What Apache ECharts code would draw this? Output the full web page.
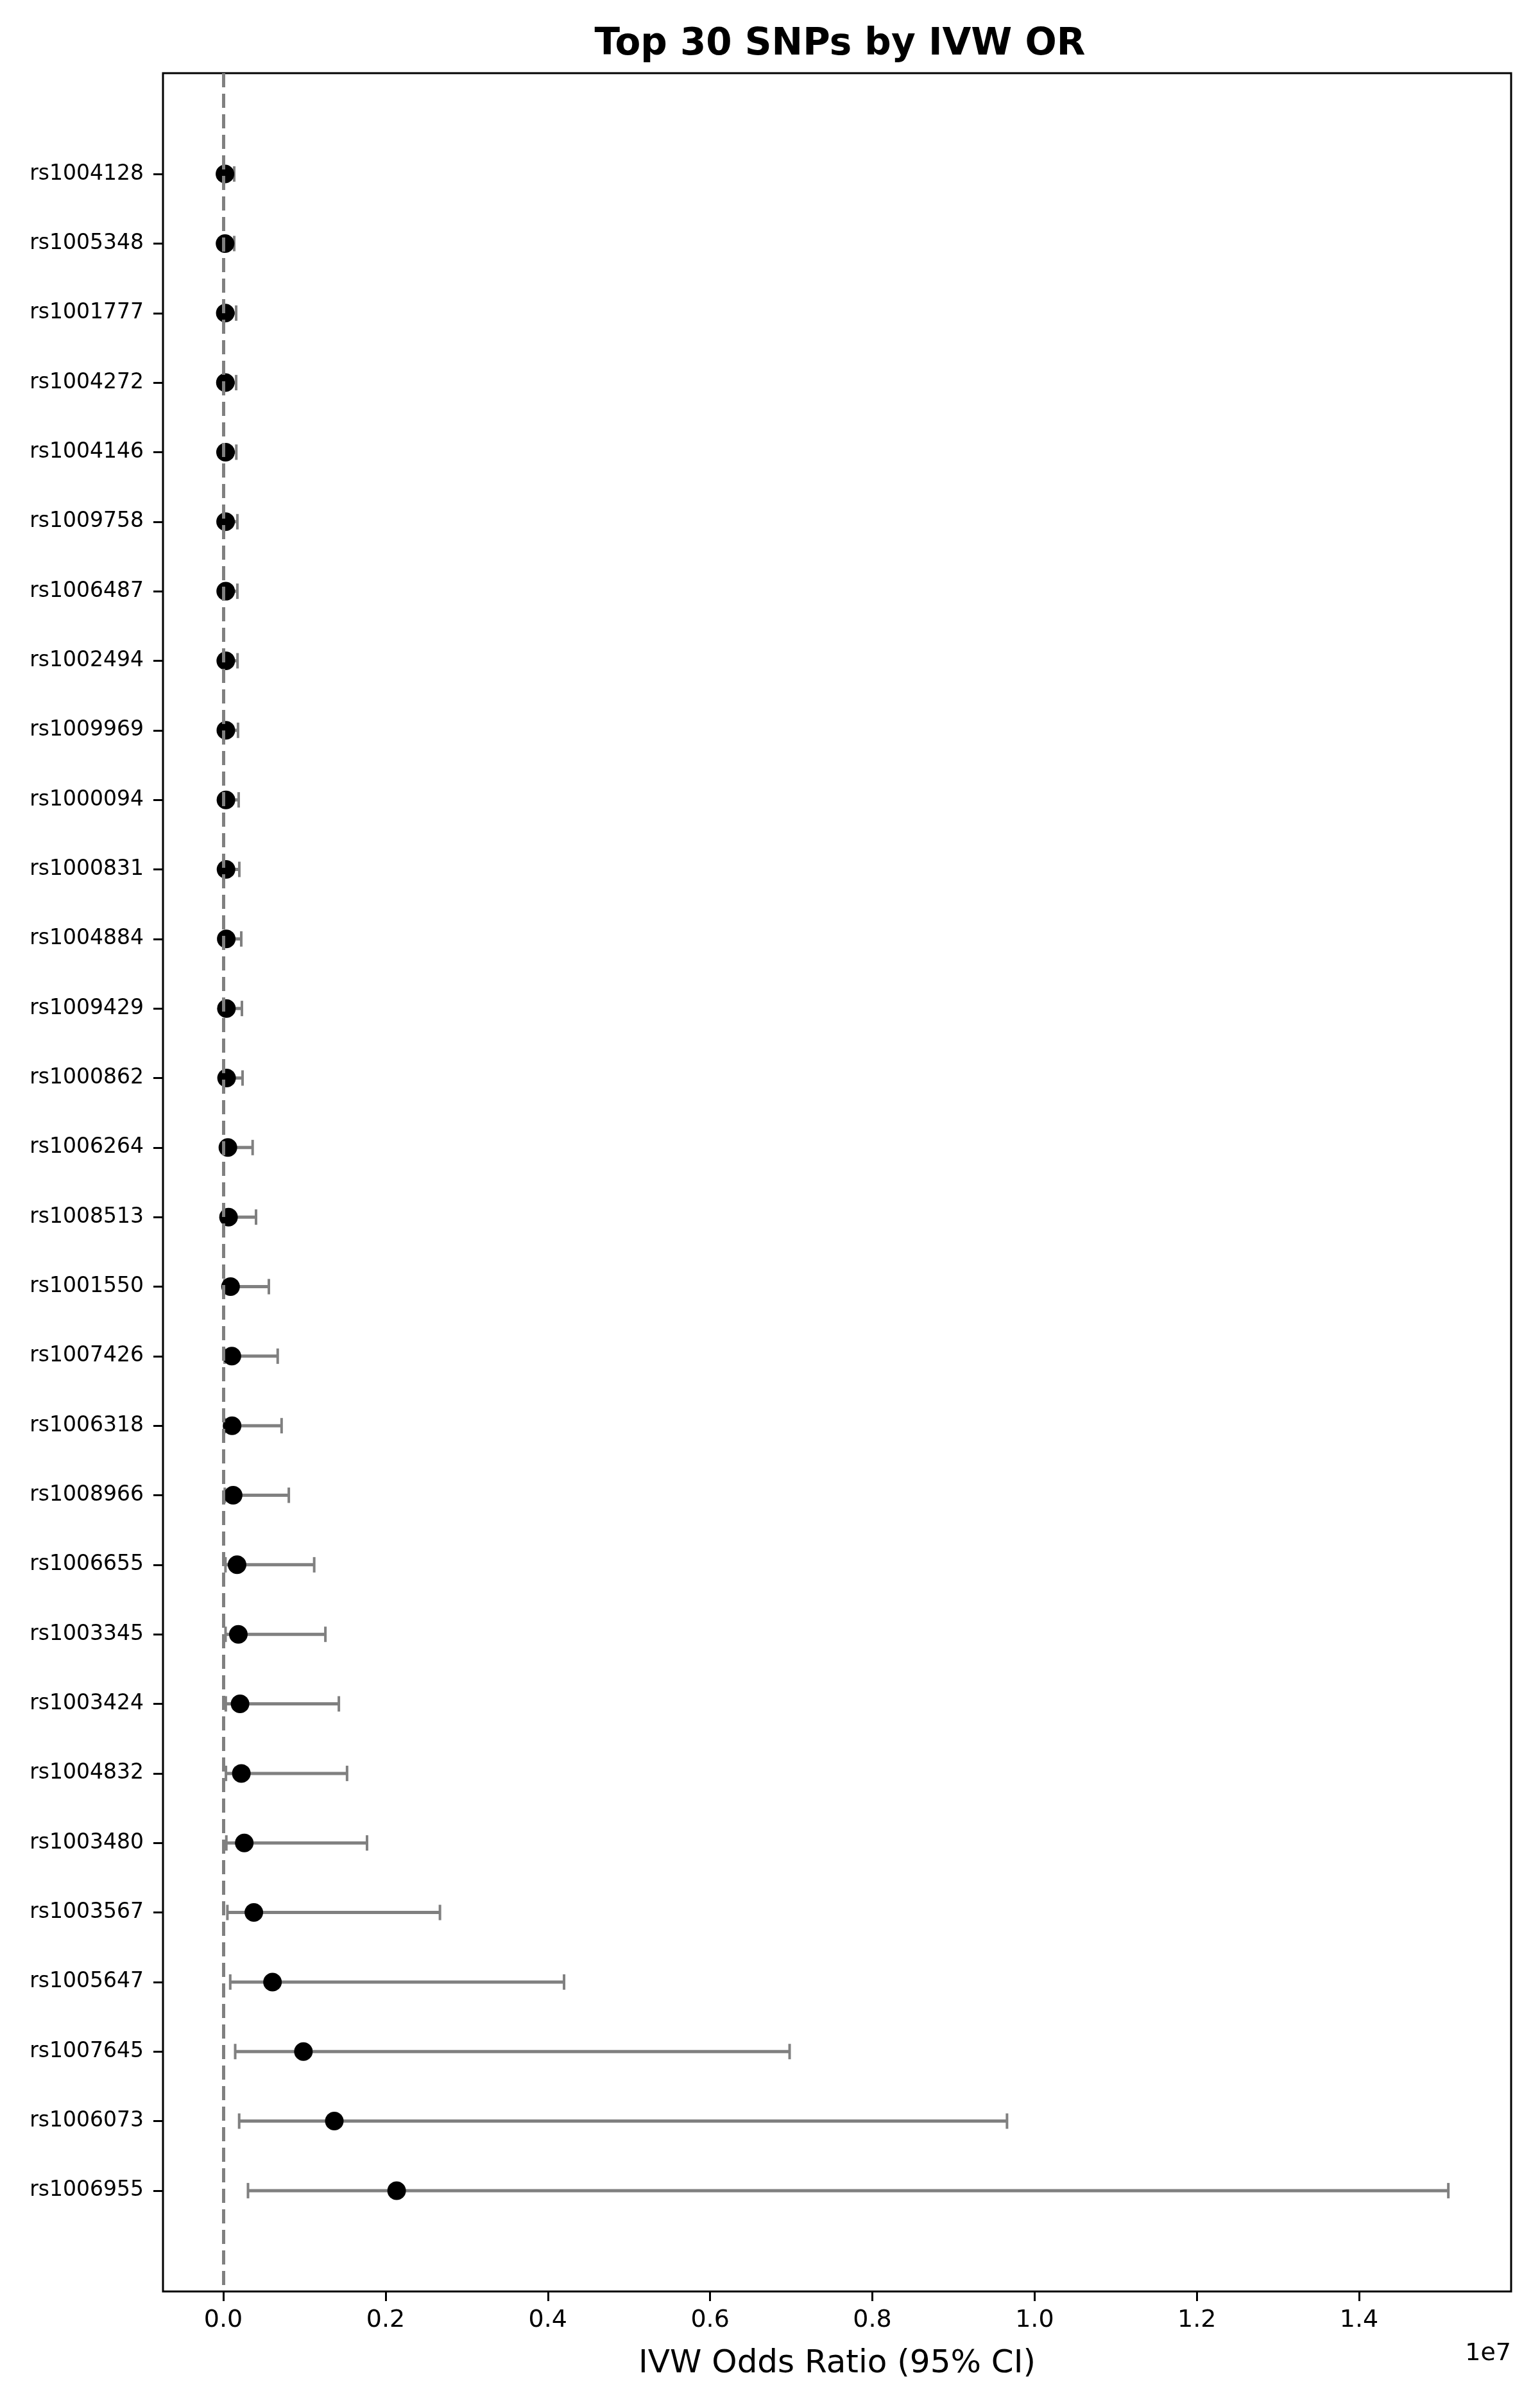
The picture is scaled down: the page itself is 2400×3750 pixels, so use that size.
<!DOCTYPE html>
<html>
<head>
<meta charset="utf-8">
<script src="https://cdn.jsdelivr.net/npm/echarts@6/dist/echarts.min.js"></script>
<style>
html, body { margin: 0; padding: 0; background: #fff; }
#chart { width: 2400px; height: 3750px; }
</style>
</head>
<body>
<div id="chart"></div>
<script>
// SNPs from top to bottom
const snps = [
  'rs1004128','rs1005348','rs1001777','rs1004272','rs1004146','rs1009758','rs1006487','rs1002494',
  'rs1009969','rs1000094','rs1000831','rs1004884','rs1009429','rs1000862','rs1006264','rs1008513',
  'rs1001550','rs1007426','rs1006318','rs1008966','rs1006655','rs1003345','rs1003424','rs1004832',
  'rs1003480','rs1003567','rs1005647','rs1007645','rs1006073','rs1006955'
];
const orValues = [
  20000, 21000, 24000, 25000, 27000, 28000, 29000, 30000,
  31000, 32000, 33000, 36000, 38000, 40000, 56000, 64000,
  89000, 105000, 108000, 121000, 169000, 185000, 206000, 222000,
  258000, 376000, 606000, 987000, 1368000, 2136000
];
const ciLower = [
  3000, 3000, 4000, 4000, 4000, 5000, 5000, 5000,
  5000, 5000, 5000, 6000, 6000, 6000, 9000, 10000,
  14000, 16000, 16000, 18000, 26000, 27000, 30000, 32000,
  37000, 50000, 85000, 146000, 195000, 304000
];
const ciUpper = [
  134000, 134000, 158000, 158000, 160000, 173000, 173000, 175000,
  181000, 189000, 197000, 221000, 229000, 237000, 361000, 403000,
  561000, 670000, 718000, 807000, 1120000, 1258000, 1424000, 1525000,
  1771000, 2670000, 4200000, 6980000, 9660000, 15100000
];
const xTicks = [0, 2000000, 4000000, 6000000, 8000000, 10000000, 12000000, 14000000];
const nullLine = 1;

const rowIdx = snps.map((_, i) => i);
const pointData = orValues.map((v, i) => [v, i]);
const ciData = ciLower.map((lo, i) => [lo, ciUpper[i], i]);

const chart = echarts.init(document.getElementById('chart'), null, { renderer: 'canvas' });
const FONT = 'DejaVu Sans';
const option = {
  backgroundColor: '#ffffff',
  animation: false,
  title: {
    text: 'Top 30 SNPs by IVW OR',
    left: 1304,
    top: 36,
    textAlign: 'center',
    textStyle: { fontFamily: FONT, fontWeight: 'bold', fontSize: 58, color: '#000' }
  },
  grid: {
    left: 254, right: 45, top: 114, bottom: 180,
    show: true, borderColor: '#000', borderWidth: 3, backgroundColor: 'transparent'
  },
  xAxis: {
    type: 'value',
    position: 'bottom',
    min: -744000,
    max: 15874000,
    name: 'IVW Odds Ratio (95% CI)',
    nameLocation: 'middle',
    nameGap: 88,
    nameTextStyle: { fontFamily: FONT, fontSize: 50, color: '#000' },
    axisLine: { show: false, onZero: false },
    axisTick: { show: true, customValues: xTicks, length: 15, lineStyle: { color: '#000', width: 3 } },
    axisLabel: {
      customValues: xTicks,
      margin: 26,
      fontFamily: FONT, fontSize: 38, color: '#000',
      formatter: v => (v / 1e7).toFixed(1)
    },
    splitLine: { show: false }
  },
  yAxis: {
    type: 'value',
    position: 'left',
    inverse: true,
    min: -1.45,
    max: 30.45,
    axisLine: { show: false, onZero: false },
    axisTick: { show: true, customValues: rowIdx, length: 15, lineStyle: { color: '#000', width: 3 } },
    axisLabel: {
      customValues: rowIdx,
      margin: 30,
      fontFamily: FONT, fontSize: 33, color: '#000',
      formatter: v => snps[Math.round(v)] || ''
    },
    splitLine: { show: false }
  },
  graphic: [{
    type: 'text',
    right: 45,
    top: 3648,
    style: { text: '1e7', font: '38px "DejaVu Sans"', fill: '#000' }
  }],
  series: [
    {
      type: 'custom',
      name: 'CI',
      data: ciData,
      encode: { x: [0, 1], y: 2 },
      z: 2,
      renderItem: function (params, api) {
        const y = api.value(2);
        const p0 = api.coord([api.value(0), y]);
        const p1 = api.coord([api.value(1), y]);
        const cap = 12;
        const st = { stroke: '#808080', lineWidth: 5 };
        const capSt = { stroke: '#808080', lineWidth: 4 };
        return {
          type: 'group',
          children: [
            { type: 'line', shape: { x1: p0[0], y1: p0[1], x2: p1[0], y2: p1[1] }, style: st },
            { type: 'line', shape: { x1: p0[0], y1: p0[1] - cap, x2: p0[0], y2: p0[1] + cap }, style: capSt },
            { type: 'line', shape: { x1: p1[0], y1: p1[1] - cap, x2: p1[0], y2: p1[1] + cap }, style: capSt }
          ]
        };
      }
    },
    {
      type: 'scatter',
      name: 'OR',
      data: pointData,
      symbol: 'circle',
      symbolSize: 29,
      itemStyle: { color: '#000', opacity: 1 },
      z: 4,
      markLine: {
        silent: true,
        symbol: ['none', 'none'],
        label: { show: false },
        lineStyle: { color: '#808080', width: 5, type: [22, 10] },
        data: [{ xAxis: nullLine }]
      }
    }
  ]
};
chart.setOption(option);
</script>
</body>
</html>
